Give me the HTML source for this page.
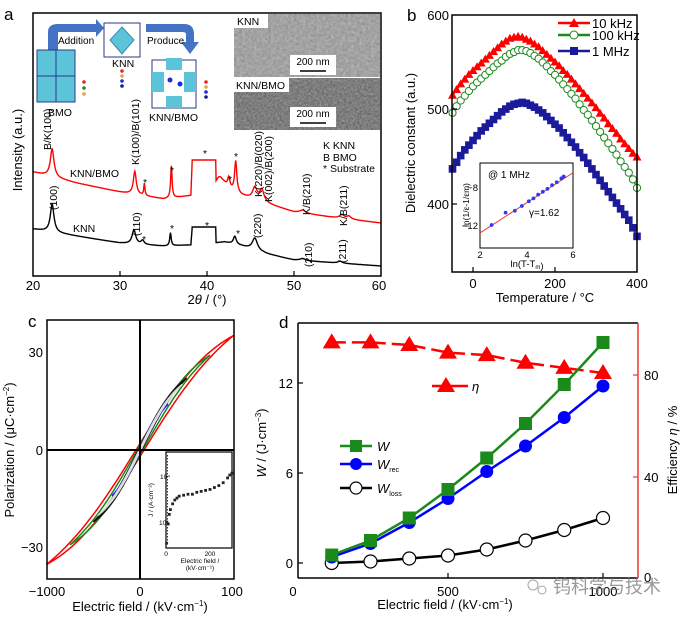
<!DOCTYPE html>
<html><head><meta charset="utf-8">
<style>
html,body{margin:0;padding:0;background:#fff;}
svg{display:block;font-family:"Liberation Sans","Noto Sans CJK SC",sans-serif;}
</style></head>
<body>
<svg id="fig" width="685" height="617" viewBox="0 0 685 617" xmlns="http://www.w3.org/2000/svg">
<defs>
<filter id="sem" x="0" y="0" width="100%" height="100%">
<feTurbulence type="fractalNoise" baseFrequency="0.35" numOctaves="2" seed="3"/>
<feColorMatrix type="matrix" values="0 0 0 0 0.45  0 0 0 0 0.45  0 0 0 0 0.45  0.9 0.9 0 0 -0.3"/>
</filter>
<filter id="sem2" x="0" y="0" width="100%" height="100%">
<feTurbulence type="fractalNoise" baseFrequency="0.45" numOctaves="2" seed="8"/>
<feColorMatrix type="matrix" values="0 0 0 0 0.3  0 0 0 0 0.3  0 0 0 0 0.3  0.9 0.9 0 0 -0.3"/>
</filter>
</defs>

<!-- PANEL A -->
<g>
<text x="4" y="20" font-size="17">a</text>
<g id="a-marks"></g>
<rect x="33" y="13" width="348" height="263" fill="none" stroke="#000" stroke-width="1.5"/>
<g stroke="#000" stroke-width="1.2">
<line x1="120" y1="276" x2="120" y2="271"/><line x1="207" y1="276" x2="207" y2="271"/><line x1="294" y1="276" x2="294" y2="271"/>
</g>
<g font-size="13" text-anchor="middle">
<text x="33" y="290">20</text><text x="120" y="290">30</text><text x="207" y="290">40</text><text x="294" y="290">50</text><text x="379" y="290">60</text>
</g>
<text x="207" y="304" font-size="13" text-anchor="middle">2<tspan font-style="italic">θ</tspan> / (°)</text>
<text transform="translate(22,150) rotate(-90)" font-size="13" text-anchor="middle">Intensity (a.u.)</text>
<rect x="234" y="14" width="146" height="63" fill="#8a8a8a"/>
<rect x="234" y="14" width="146" height="63" filter="url(#sem)"/>
<rect x="234" y="78" width="146" height="52" fill="#5a5a5a"/>
<rect x="234" y="78" width="146" height="52" filter="url(#sem2)"/>
<rect x="234" y="14" width="34" height="14" fill="#fff"/>
<text x="237" y="25" font-size="10.5">KNN</text>
<rect x="234" y="78" width="55" height="14" fill="#fff"/>
<text x="236" y="89" font-size="10.5">KNN/BMO</text>
<rect x="290" y="55" width="46" height="20" fill="#fff"/>
<text x="313" y="65" font-size="10" text-anchor="middle">200 nm</text>
<line x1="300" y1="71" x2="326" y2="71" stroke="#000" stroke-width="1.5"/>
<rect x="290" y="107" width="46" height="20" fill="#fff"/>
<text x="313" y="117" font-size="10" text-anchor="middle">200 nm</text>
<line x1="300" y1="123" x2="326" y2="123" stroke="#000" stroke-width="1.5"/>
<g>
<path d="M48,50 L48,32 Q48,24 58,24 L96,24 L96,19 L104,28 L96,37 L96,32 L58,32 L58,50 Z" fill="#4472c4"/>
<text x="58" y="44" font-size="10">Addition</text>
<path d="M146,24 L184,24 Q194,24 194,34 L194,42 L199,42 L190,54 L181,42 L186,42 L186,34 Q186,32 182,32 L146,32 Z" fill="#4472c4"/>
<text x="147" y="44" font-size="10">Produce</text>
<rect x="37" y="50" width="38" height="52" fill="#5cc4d8" stroke="#2a3a8a" stroke-width="1"/>
<line x1="56" y1="50" x2="56" y2="102" stroke="#2a3a8a"/><line x1="37" y1="76" x2="75" y2="76" stroke="#2a3a8a"/>
<text x="48" y="116" font-size="10.5">BMO</text>
<rect x="104" y="23" width="36" height="34" fill="none" stroke="#2a3a8a" stroke-width="1"/>
<polygon points="122,27 134,40 122,54 110,40" fill="#5cc4d8" stroke="#3a8aa8"/>
<text x="112" y="67" font-size="10.5">KNN</text>
<rect x="152" y="60" width="44" height="48" fill="none" stroke="#2a3a8a" stroke-width="1"/>
<rect x="152" y="72" width="12" height="20" fill="#5cc4d8"/><rect x="184" y="72" width="12" height="20" fill="#5cc4d8"/>
<rect x="166" y="58" width="16" height="12" fill="#5cc4d8"/><rect x="166" y="96" width="16" height="12" fill="#5cc4d8"/>
<circle cx="170" cy="80" r="2.5" fill="#1a2adc"/><circle cx="180" cy="84" r="2.5" fill="#1a2adc"/>
<text x="149" y="121" font-size="10.5">KNN/BMO</text>
<g><circle cx="84" cy="82" r="1.8" fill="#e22"/><circle cx="84" cy="88" r="1.8" fill="#282"/><circle cx="84" cy="94" r="1.8" fill="#e8a040"/>
<circle cx="122" cy="71" r="1.8" fill="#e22"/><circle cx="122" cy="76" r="1.8" fill="#e8a040"/><circle cx="122" cy="81" r="1.8" fill="#1a2adc"/><circle cx="122" cy="86" r="1.8" fill="#102080"/>
<circle cx="206" cy="82" r="1.8" fill="#e22"/><circle cx="206" cy="87" r="1.8" fill="#e8a040"/><circle cx="206" cy="92" r="1.8" fill="#1a2adc"/><circle cx="206" cy="97" r="1.8" fill="#102080"/></g>
</g>
<g font-size="10.5">
<text transform="translate(51,150) rotate(-90)">B/K(100)</text>
<text transform="translate(57,210) rotate(-90)">(100)</text>
<text transform="translate(139,165) rotate(-90)">K(100)/B(101)</text>
<text transform="translate(140,236) rotate(-90)">(110)</text>
<text transform="translate(262,197) rotate(-90)">K(220)/B(020)</text>
<text transform="translate(272,202) rotate(-90)">K(002)/B(200)</text>
<text transform="translate(310,215) rotate(-90)">K/B(210)</text>
<text transform="translate(347,226) rotate(-90)">K/B(211)</text>
<text transform="translate(261,238) rotate(-90)">(220)</text>
<text transform="translate(312,267) rotate(-90)">(210)</text>
<text transform="translate(346,263) rotate(-90)">(211)</text>
<text x="70" y="177">KNN/BMO</text>
<text x="73" y="232">KNN</text>
<text x="323" y="149">K  KNN</text><text x="323" y="161">B  BMO</text><text x="323" y="172">*  Substrate</text>
<text x="143" y="186">*</text><text x="170" y="174">*</text><text x="203" y="157">*</text><text x="228" y="183">*</text><text x="234" y="160">*</text>
<text x="142" y="243">*</text><text x="170" y="232">*</text><text x="205" y="229">*</text><text x="236" y="237">*</text>
</g>
</g>

<!-- PANEL B -->
<g>
<text x="407" y="21" font-size="17">b</text>
<g id="b-marks"></g>
<rect x="452" y="15" width="185" height="257" fill="none" stroke="#000" stroke-width="1.5"/>
<g stroke="#000" stroke-width="1.2"><line x1="473" y1="272" x2="473" y2="267"/><line x1="555" y1="272" x2="555" y2="267"/><line x1="452" y1="109" x2="457" y2="109"/><line x1="452" y1="204" x2="457" y2="204"/></g>
<g font-size="13" text-anchor="middle"><text x="473" y="288">0</text><text x="555" y="288">200</text><text x="637" y="288">400</text></g>
<g font-size="13" text-anchor="end"><text x="449" y="20">600</text><text x="449" y="114">500</text><text x="449" y="209">400</text></g>
<text x="545" y="302" font-size="13" text-anchor="middle">Temperature / °C</text>
<text transform="translate(415,143) rotate(-90)" font-size="13" text-anchor="middle">Dielectric constant (a.u.)</text>
<g>
<line x1="558" y1="23" x2="590" y2="23" stroke="#f00" stroke-width="2.5"/><polygon points="574,18 579,27 569,27" fill="#f00"/>
<text x="592" y="28" font-size="13">10 kHz</text>
<line x1="558" y1="35" x2="590" y2="35" stroke="#1a8a1a" stroke-width="2.5"/><circle cx="574" cy="35" r="4" fill="#fff" stroke="#1a8a1a"/>
<text x="592" y="40" font-size="13">100 kHz</text>
<line x1="558" y1="51" x2="590" y2="51" stroke="#1a1a9a" stroke-width="2.5"/><rect x="570" y="47" width="8" height="8" fill="#1a1a9a"/>
<text x="592" y="56" font-size="13">1 MHz</text>
</g>
<rect x="480" y="163" width="93" height="85" fill="#fff" stroke="#000" stroke-width="1"/>
<g id="b-inset"></g>
<text x="488" y="178" font-size="10">@ 1 MHz</text>
<text x="529" y="216" font-size="10">γ=1.62</text>
<g font-size="9.5"><text x="478" y="191" text-anchor="end">−8</text><text x="478" y="229" text-anchor="end">−12</text>
<text x="480" y="258" text-anchor="middle">2</text><text x="527" y="258" text-anchor="middle">4</text><text x="573" y="258" text-anchor="middle">6</text></g>
<text x="527" y="267" font-size="9.5" text-anchor="middle">ln(T-T<tspan font-size="6" dy="2">m</tspan>)</text>
<text transform="translate(469,205) rotate(-90)" font-size="8.5" text-anchor="middle">ln(1/ε-1/εm)</text>
</g>

<!-- PANEL C -->
<g>
<text x="28" y="327" font-size="17">c</text>
<g id="c-marks"></g>
<line x1="140" y1="320" x2="140" y2="579" stroke="#000" stroke-width="2"/>
<line x1="47" y1="450" x2="234" y2="450" stroke="#000" stroke-width="2"/>
<rect x="47" y="320" width="187" height="259" fill="none" stroke="#000" stroke-width="1.5"/>
<g font-size="13" text-anchor="end"><text x="43" y="357">30</text><text x="43" y="455">0</text><text x="43" y="552">−30</text></g>
<g font-size="13" text-anchor="middle"><text x="47" y="596">−1000</text><text x="140" y="596">0</text><text x="232" y="596">100</text></g>
<text x="140" y="611" font-size="13" text-anchor="middle">Electric field / (kV·cm<tspan font-size="8" dy="-5">−1</tspan><tspan dy="5">)</tspan></text>
<text transform="translate(14,450) rotate(-90)" font-size="13" text-anchor="middle">Polarization / (μC·cm<tspan font-size="8" dy="-5">−2</tspan><tspan dy="5">)</tspan></text>
<rect x="166" y="452" width="66" height="96" fill="#fff" stroke="#000" stroke-width="1.2"/>
<g id="c-inset"></g>
<g font-size="6.5"><text x="166" y="556" text-anchor="middle">0</text><text x="210" y="556" text-anchor="middle">200</text>
<text x="200" y="563" text-anchor="middle">Electric field /</text><text x="200" y="570" text-anchor="middle">(kV·cm⁻¹)</text>
<text x="160" y="479">10⁴</text><text x="159" y="525">10⁶</text>
<text transform="translate(153,500) rotate(-90)" text-anchor="middle">J / (A·cm⁻²)</text></g>
</g>

<!-- PANEL D -->
<g>
<text x="279" y="328" font-size="17">d</text>
<g id="d-marks"></g>
<line x1="298" y1="323" x2="638" y2="323" stroke="#000" stroke-width="1.5"/>
<line x1="298" y1="578" x2="638" y2="578" stroke="#000" stroke-width="1.5"/>
<line x1="298" y1="323" x2="298" y2="578" stroke="#000" stroke-width="1.5"/>
<line x1="638" y1="323" x2="638" y2="578" stroke="#e33" stroke-width="1.5"/>
<g stroke="#000" stroke-width="1.2"><line x1="298" y1="383" x2="303" y2="383"/><line x1="298" y1="473" x2="303" y2="473"/><line x1="298" y1="563" x2="303" y2="563"/>
<line x1="448" y1="578" x2="448" y2="573"/><line x1="603" y1="578" x2="603" y2="573"/></g>
<g stroke="#e33" stroke-width="1.2"><line x1="638" y1="375" x2="633" y2="375"/><line x1="638" y1="477" x2="633" y2="477"/></g>
<g font-size="13" text-anchor="end"><text x="293" y="388">12</text><text x="293" y="478">6</text><text x="293" y="568">0</text></g>
<g font-size="13"><text x="644" y="380">80</text><text x="644" y="482">40</text><text x="644" y="582">0</text></g>
<g font-size="13" text-anchor="middle"><text x="293" y="596">0</text><text x="448" y="596">500</text><text x="603" y="596">1000</text></g>
<text x="445" y="609" font-size="13" text-anchor="middle">Electric field / (kV·cm<tspan font-size="8" dy="-5">−1</tspan><tspan dy="5">)</tspan></text>
<text transform="translate(266,443) rotate(-90)" font-size="13" text-anchor="middle"><tspan font-style="italic">W</tspan> / (J·cm<tspan font-size="8" dy="-5">−3</tspan><tspan dy="5">)</tspan></text>
<text transform="translate(677,450) rotate(-90)" font-size="13" text-anchor="middle">Efficiency <tspan font-style="italic">η</tspan> / %</text>
<g>
<line x1="432" y1="386" x2="468" y2="386" stroke="#f00" stroke-width="2.5"/><polygon points="446,377 455,392 437,392" fill="#f00"/>
<text x="472" y="391" font-size="13" font-style="italic">η</text>
<line x1="340" y1="446" x2="372" y2="446" stroke="#1a8a1a" stroke-width="2.5"/><rect x="350" y="440" width="12" height="12" fill="#1a8a1a"/>
<text x="377" y="451" font-size="13" font-style="italic">W</text>
<line x1="340" y1="464" x2="372" y2="464" stroke="#00f" stroke-width="2.5"/><circle cx="356" cy="464" r="6" fill="#00f"/>
<text x="377" y="469" font-size="13"><tspan font-style="italic">W</tspan><tspan font-size="7" dy="3">rec</tspan></text>
<line x1="340" y1="488" x2="372" y2="488" stroke="#000" stroke-width="2.5"/><circle cx="356" cy="488" r="6" fill="#fff" stroke="#000" stroke-width="1.2"/>
<text x="377" y="493" font-size="13"><tspan font-style="italic">W</tspan><tspan font-size="7" dy="3">loss</tspan></text>
</g>
<g opacity="0.75">
<circle cx="533" cy="585" r="5" fill="none" stroke="#888"/><circle cx="542" cy="590" r="4" fill="none" stroke="#888"/>
<text x="553" y="593" font-size="18" fill="#777" font-family="'Noto Sans CJK SC',sans-serif">钨科学与技术</text>
</g>
</g>
</svg>

<script>
const NS='http://www.w3.org/2000/svg';
function mk(tag,attrs,parent){const e=document.createElementNS(NS,tag);for(const k in attrs)e.setAttribute(k,attrs[k]);parent.appendChild(e);return e;}

// ===== Panel a data =====
const aBaseX=[20,25,30,35,38,42,44,47,50,55,60];
const aRedBase=[104,93,84,77,80,88,80,72,64,58,53];
const aBlackBase=[47,40,33,30,31,34,30,22,16,13,10];
const aRedPeakPos=[22.2,31.7,32.8,35.9,41.4,42.5,43.3,45.5,46.3,51.0,55.5,56.3];
const aRedPeakH=[28,23,12,32,12,10,31,12,12,3,4,3];
const aRedPeakW=[0.25,0.2,0.08,0.1,0.6,0.15,0.15,0.3,0.3,0.4,0.3,0.3];
const aBlackPeakPos=[22.2,31.6,32.6,35.8,43.2,45.5,51.0,55.3];
const aBlackPeakH=[28,14,4,13,8,12,2,2];
const aBlackPeakW=[0.25,0.25,0.2,0.1,0.2,0.35,0.4,0.3];
const aPlateauStart=38.3, aPlateauEnd=41.0;
const aRedPlateauTop=116, aBlackPlateauTop=49;

const ax=t=>33+(t-20)*8.7;
const ay=v=>276-v;
function interp(xs,ys,x){for(let i=0;i<xs.length-1;i++){if(x<=xs[i+1]){const f=(x-xs[i])/(xs[i+1]-xs[i]);return ys[i]+f*(ys[i+1]-ys[i]);}}return ys[ys.length-1];}
function xrd(t,base,pos,h,w,top){
  let v=interp(aBaseX,base,t);
  for(let i=0;i<pos.length;i++){const d=(t-pos[i])/w[i];v+=h[i]/(1+d*d);}
  if(t>=aPlateauStart-0.15 && t<=aPlateauEnd+0.05){
    if(t<aPlateauStart) v=v+(top-v)*(t-aPlateauStart+0.15)/0.15;
    else if(t<=aPlateauEnd) v=top;
    else v=v+(top-v)*(1-(t-aPlateauEnd)/0.05);
  }
  return v;
}
const gA=document.getElementById('a-marks');
[[aRedBase,aRedPeakPos,aRedPeakH,aRedPeakW,aRedPlateauTop,'#f00','xrd-knn-bmo-curve'],
 [aBlackBase,aBlackPeakPos,aBlackPeakH,aBlackPeakW,aBlackPlateauTop,'#000','xrd-knn-curve']].forEach(s=>{
  let d='';
  for(let t=20;t<=60.001;t+=0.05){d+=(d?'L':'M')+ax(t).toFixed(1)+','+ay(xrd(t,s[0],s[1],s[2],s[3],s[4])).toFixed(1);}
  const p=mk('path',{d:d,fill:'none',stroke:s[5],'stroke-width':1.4},gA);
  
  
});

// ===== Panel b data =====
const bTemps=[-50,-40,-30,-20,-10,0,10,20,30,40,50,60,70,80,90,100,110,120,130,140,150,160,170,180,190,200,210,220,230,240,250,260,270,280,290,300,310,320,330,340,350,360,370,380,390,400];
const b10k=[515,521,527,532,537,541,545,549,553,557,561,565,569,572,575,576,577,576,574,572,569,566,562,558,554,550,546,541,537,532,527,522,517,512,507,502,496,491,485,480,475,469,464,459,454,450];
const b100k=[497,504,510,515,520,525,529,533,537,541,545,549,552,556,559,561,563,563,562,560,557,554,550,546,541,537,532,527,522,517,512,506,500,495,489,483,477,471,465,459,453,446,440,434,427,418];
const b1M=[438,445,452,458,463,468,473,478,482,486,490,494,498,501,504,506,507,508,507,505,503,500,497,493,489,485,481,476,471,466,461,455,450,444,438,432,426,420,414,408,402,396,390,384,376,367];
const bx=t=>473+t*0.41;
const by=v=>15+(600-v)*0.95;
const gB=document.getElementById('b-marks');
function bLine(vals,color,name){
  let d='';bTemps.forEach((t,i)=>{d+=(i?'L':'M')+bx(t).toFixed(1)+','+by(vals[i]).toFixed(1);});
  const p=mk('path',{d:d,fill:'none',stroke:color,'stroke-width':1.5},gB);
  
  
}
bLine(b10k,'#f00','line-10khz');bLine(b100k,'#1a8a1a','line-100khz');bLine(b1M,'#1a1a9a','line-1mhz');
bTemps.forEach((t,i)=>{
  const x=bx(t),y=by(b10k[i]);
  const m=mk('polygon',{points:`${x},${y-5} ${x+4.5},${y+3} ${x-4.5},${y+3}`,fill:'#f00'},gB);
  
  
});
bTemps.forEach((t,i)=>{
  const m=mk('circle',{cx:bx(t),cy:by(b100k[i]),r:3.6,fill:'#fff',stroke:'#1a8a1a','stroke-width':1},gB);
  
  
});
bTemps.forEach((t,i)=>{
  const m=mk('rect',{x:bx(t)-3.8,y:by(b1M[i])-3.8,width:7.6,height:7.6,fill:'#1a1a9a'},gB);
  
  
});
const biX=[2.5,3.1,3.5,3.8,4.1,4.3,4.5,4.7,4.9,5.1,5.3,5.5,5.6];
const biY=[-12.0,-10.7,-10.5,-10.0,-9.5,-9.2,-8.8,-8.5,-8.2,-7.8,-7.5,-7.1,-6.9];
const biFitX=[2,6];
const biFitY=[-12.84,-6.5];
const bix=v=>480+(v-2)*23.25;
const biy=v=>187-(v+8)*9.5;
const gBi=document.getElementById('b-inset');
const fit=mk('line',{x1:bix(biFitX[0]),y1:biy(biFitY[0]),x2:bix(biFitX[1]),y2:biy(biFitY[1]),stroke:'#e33','stroke-width':1},gBi);


biX.forEach((v,i)=>{
  const c=mk('circle',{cx:bix(v),cy:biy(biY[i]),r:1.9,fill:'#2a3aff'},gBi);
  
  
});

// ===== Panel c data =====
const cEmax=[1000,750,500,300,450];
const cPmax=[35,29,22,14,20];
const cPr=[2,1.5,1,0.6,0.5];
const cColors=['#f00','#1a8a1a','#111','#22f','#ddd'];
const cNames=['loop-1000','loop-750','loop-500','loop-300','loop-450'];
const cx=E=>140+E*0.0935;
const cy=P=>450-P*3.27;
const gC=document.getElementById('c-marks');
cEmax.forEach((Em,k)=>{
  const g=u=>Math.tanh(1.0*u)/Math.tanh(1.0);
  let d='';
  for(let i=0;i<=60;i++){const u=1-2*i/60;const P=cPmax[k]*g(u)+cPr[k]*(1-u*u);d+=(i?'L':'M')+cx(u*Em).toFixed(1)+','+cy(P).toFixed(1);}
  for(let i=0;i<=60;i++){const u=-1+2*i/60;const P=cPmax[k]*g(u)-cPr[k]*(1-u*u);d+='L'+cx(u*Em).toFixed(1)+','+cy(P).toFixed(1);}
  const p=mk('path',{d:d+'Z',fill:'none',stroke:cColors[k],'stroke-width':1.5},gC);
  
  
});
const ciE=[3,10,15,20,30,40,50,60,80,100,120,140,160,180,200,220,240,260,280,290,300];
const ciJ=[0.5,2.5,3.5,4.0,4.6,5.0,5.2,5.4,5.5,5.6,5.6,5.8,5.9,6.0,6.1,6.3,6.5,6.8,7.3,7.6,7.8];
const cix=E=>166+E*0.22;
const ciy=v=>548-v*9.6;
const gCi=document.getElementById('c-inset');
ciE.forEach((E,i)=>{
  const r=mk('rect',{x:cix(E)-1.4,y:ciy(ciJ[i])-1.4,width:2.8,height:2.8,fill:'#222'},gCi);
  
  
});
const vl=mk('line',{x1:167.5,y1:455,x2:167.5,y2:545,stroke:'#333','stroke-width':1,'stroke-dasharray':'1.5,1.5'},gCi);



// ===== Panel d data =====
const dField=[125,250,375,500,625,750,875,1000];
const dW=[0.53,1.5,3.0,4.9,7.0,9.3,11.9,14.7];
const dWrec=[0.4,1.3,2.7,4.3,6.1,7.8,9.7,11.8];
const dWloss=[0.0,0.1,0.3,0.5,0.9,1.5,2.2,3.0];
const dEta=[92,92,91,88,87,84,82,80];
const dx=E=>293+E*0.31;
const dyW=v=>563-v*15;
const dyEta=v=>577-v*2.55;
const gD=document.getElementById('d-marks');
function dLine(vals,yf,color,name,dash){
  let d='';dField.forEach((E,i)=>{d+=(i?'L':'M')+dx(E).toFixed(1)+','+yf(vals[i]).toFixed(1);});
  const a={d:d,fill:'none',stroke:color,'stroke-width':2.5};if(dash)a['stroke-dasharray']=dash;
  const p=mk('path',a,gD);
  
  
}
dLine(dEta,dyEta,'#f00','line-efficiency','14,6');
dLine(dWloss,dyW,'#000','line-w-loss');
dLine(dWrec,dyW,'#00f','line-w-rec');
dLine(dW,dyW,'#1a8a1a','line-w');
dField.forEach((E,i)=>{
  const c=mk('circle',{cx:dx(E),cy:dyW(dWloss[i]),r:6.5,fill:'#fff',stroke:'#000','stroke-width':1.2},gD);
  
  
});
dField.forEach((E,i)=>{
  const c=mk('circle',{cx:dx(E),cy:dyW(dWrec[i]),r:6.5,fill:'#00f'},gD);
  
  
});
dField.forEach((E,i)=>{
  const r=mk('rect',{x:dx(E)-6.5,y:dyW(dW[i])-6.5,width:13,height:13,fill:'#1a8a1a'},gD);
  
  
});
dField.forEach((E,i)=>{
  const x=dx(E),y=dyEta(dEta[i]);
  const t=mk('polygon',{points:`${x},${y-9} ${x+9},${y+6} ${x-9},${y+6}`,fill:'#f00'},gD);
  
  
});
</script>
</body></html>
